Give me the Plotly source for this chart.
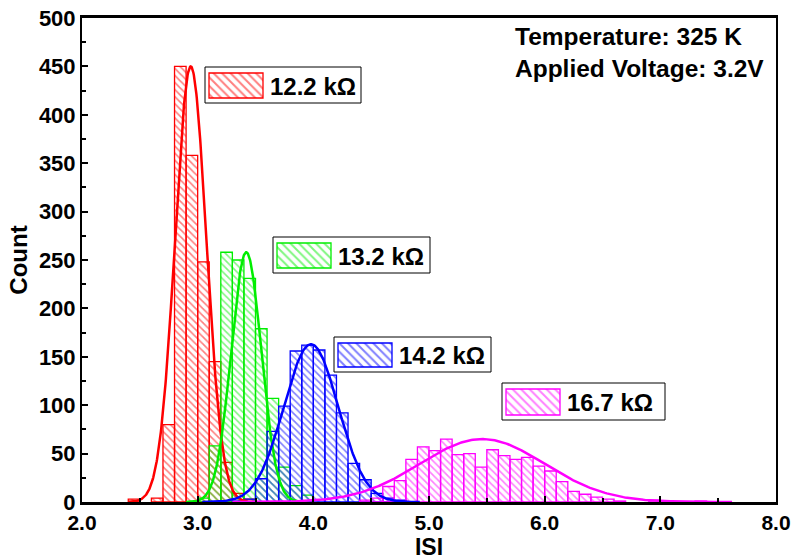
import numpy as np
import plotly.graph_objects as go

# ---------------- data ----------------
bin_width = 0.1

red_x = [2.45, 2.65, 2.75, 2.85, 2.95, 3.05, 3.15, 3.25, 3.35, 3.45]
red_y = [3, 4, 80, 450, 358, 248, 145, 41, 9, 3]

green_x = [3.05, 3.15, 3.25, 3.35, 3.45, 3.55, 3.65, 3.75, 3.85, 3.95]
green_y = [4, 58, 258, 250, 231, 179, 107, 36, 17, 7]

blue_x = [3.35, 3.45, 3.55, 3.65, 3.75, 3.85, 3.95, 4.05, 4.15, 4.25,
          4.35, 4.45, 4.55, 4.65, 4.75]
blue_y = [1, 3, 24, 73, 99, 156, 162, 157, 131, 92, 40, 23, 9, 4, 2]

magenta_x = [4.45, 4.55, 4.65, 4.75, 4.85, 4.95, 5.05, 5.15, 5.25, 5.35,
             5.45, 5.55, 5.65, 5.75, 5.85, 5.95, 6.05, 6.15, 6.25, 6.35,
             6.45, 6.55, 6.65, 6.95, 7.35]
magenta_y = [2, 4, 16, 22, 44, 57, 53, 65, 49, 50, 36, 54, 48, 44, 46, 37,
             32, 21, 11, 8, 5, 3, 1, 2, 1]

# Gaussian fit parameters (center, sigma, amplitude)
fit_red = (2.94, 0.135, 450)
fit_green = (3.42, 0.13, 258)
fit_blue = (3.98, 0.235, 163)
fit_magenta = (5.46, 0.54, 65)

labels = ["12.2 kΩ", "13.2 kΩ", "14.2 kΩ", "16.7 kΩ"]
colors = ["#ff0000", "#00ee00", "#0000ff", "#ff00ff"]

info_text = "Temperature: 325 K<br>Applied Voltage: 3.2V"

x_ticks = [2.0, 3.0, 4.0, 5.0, 6.0, 7.0, 8.0]
y_ticks = [0, 50, 100, 150, 200, 250, 300, 350, 400, 450, 500]

# ---------------- figure ----------------
FONT = "Liberation Sans, Arial, sans-serif"
fig = go.Figure()

series = [(red_x, red_y, fit_red), (green_x, green_y, fit_green),
          (blue_x, blue_y, fit_blue), (magenta_x, magenta_y, fit_magenta)]

for (xs, ys, fit), col in zip(series, colors):
    fig.add_trace(go.Bar(
        x=xs, y=ys, width=bin_width,
        marker=dict(color="rgba(0,0,0,0)",
                    line=dict(color=col, width=1.3),
                    pattern=dict(shape="\\", fgcolor=col, size=5,
                                 solidity=0.33, fillmode="overlay")),
        showlegend=False, hoverinfo="skip"))

for (xs, ys, fit), col in zip(series, colors):
    mu, sd, amp = fit
    gx = np.linspace(mu - 4 * sd, mu + 4 * sd, 300)
    gy = amp * np.exp(-0.5 * ((gx - mu) / sd) ** 2)
    fig.add_trace(go.Scatter(x=gx, y=gy, mode="lines",
                             line=dict(color=col, width=2.5),
                             showlegend=False, hoverinfo="skip"))

# ---- label boxes on a pixel-like overlay axis pair ----
# (left, top, right, bottom) in page pixels, swatch inside
boxes = [(205, 67, 361, 103), (273, 237, 430, 273),
         (334, 337, 491, 372), (502, 383, 665, 420)]
for (l, t, r, b), col, lab in zip(boxes, colors, labels):
    fig.add_shape(type="rect", xref="x2", yref="y2", x0=l, x1=r, y0=t, y1=b,
                  line=dict(color="black", width=1), fillcolor="white",
                  layer="below")
    sw_l, sw_r = l + 4, l + 58
    sw_t, sw_b = t + 6, b - 5
    fig.add_trace(go.Bar(
        x=[(sw_l + sw_r) / 2], y=[sw_b - sw_t], base=[sw_t], width=[sw_r - sw_l],
        xaxis="x2", yaxis="y2",
        marker=dict(color="rgba(0,0,0,0)",
                    line=dict(color=col, width=1.3),
                    pattern=dict(shape="\\", fgcolor=col, size=6,
                                 solidity=0.33, fillmode="overlay")),
        showlegend=False, hoverinfo="skip"))
    fig.add_annotation(xref="x2", yref="y2", x=sw_r + 5, y=(t + b) / 2 + 1,
                       text=lab, showarrow=False, xanchor="left",
                       yanchor="middle",
                       font=dict(family=FONT, size=24, color="black",
                                 weight="bold"))

fig.add_annotation(xref="x2", yref="y2", x=513, y=21, text=info_text,
                   showarrow=False, xanchor="left", yanchor="top", align="left",
                   font=dict(family=FONT, size=24.5, color="black",
                             weight="bold"))

fig.update_layout(
    width=791, height=560,
    margin=dict(l=82, r=15, t=18, b=58),
    paper_bgcolor="white", plot_bgcolor="white",
    barmode="overlay",
    font=dict(family=FONT, color="black", weight="bold"),
    xaxis=dict(range=[2.0, 8.0], tickvals=x_ticks, tickformat=".1f",
               automargin=False, ticklabeloverflow="allow",
               ticks="inside", ticklen=6, tickwidth=2, tickcolor="black",
               minor=dict(dtick=0.5, tick0=2.0, ticks="inside", ticklen=4,
                          tickwidth=2, tickcolor="black"),
               showline=True, linecolor="black", linewidth=3, mirror=True,
               showgrid=False, zeroline=False,
               tickfont=dict(family=FONT, size=21, weight="bold"),
               title=dict(text="ISI", standoff=4,
                          font=dict(family=FONT, size=23, weight="bold"))),
    yaxis=dict(range=[0, 500], tickvals=y_ticks, automargin=False,
               ticklabeloverflow="allow",
               ticks="inside", ticklen=6, tickwidth=2, tickcolor="black",
               minor=dict(dtick=25, tick0=0, ticks="inside", ticklen=4,
                          tickwidth=2, tickcolor="black"),
               showline=True, linecolor="black", linewidth=2, mirror=True,
               showgrid=False, zeroline=False,
               tickfont=dict(family=FONT, size=22, weight="bold"),
               title=dict(text="Count", standoff=4,
                          font=dict(family=FONT, size=24, weight="bold"))),
    xaxis2=dict(overlaying="x", range=[82, 776], visible=False,
                fixedrange=True),
    yaxis2=dict(overlaying="y", range=[502, 18], visible=False,
                fixedrange=True),
)

fig.write_html("out.html")
